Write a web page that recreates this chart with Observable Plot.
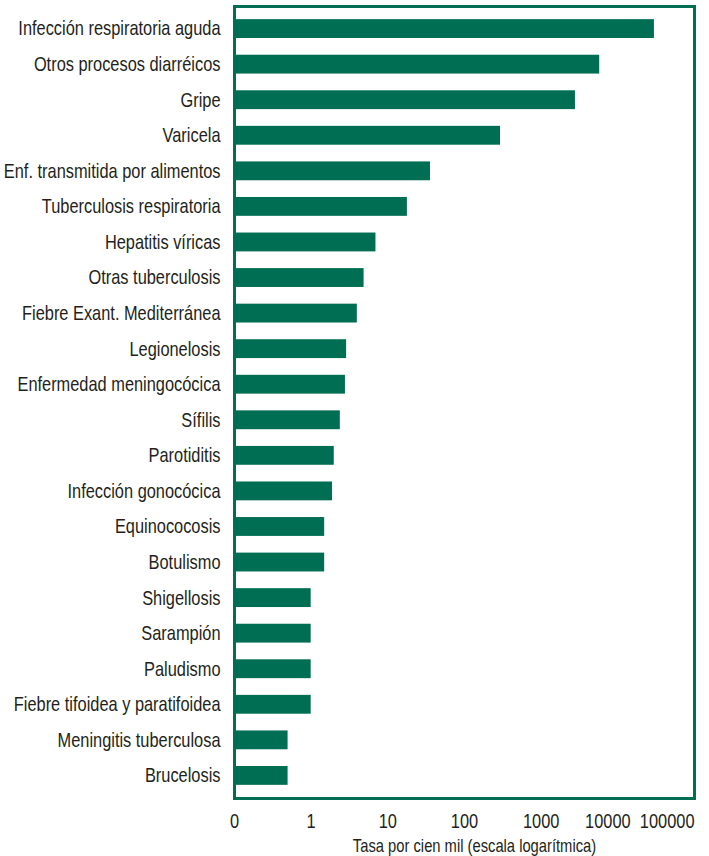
<!DOCTYPE html>
<html>
<head>
<meta charset="utf-8">
<script src="https://cdn.jsdelivr.net/npm/d3@7"></script>
<script src="https://cdn.jsdelivr.net/npm/@observablehq/plot@0.6"></script>
<style>
  html, body { margin: 0; padding: 0; background: #fff; }
  #chart svg { display: block; }
</style>
</head>
<body>
<div id="chart"></div>
<script>
// Categories (top to bottom)
const diseases = [
  "Infección respiratoria aguda",
  "Otros procesos diarréicos",
  "Gripe",
  "Varicela",
  "Enf. transmitida por alimentos",
  "Tuberculosis respiratoria",
  "Hepatitis víricas",
  "Otras tuberculosis",
  "Fiebre Exant. Mediterránea",
  "Legionelosis",
  "Enfermedad meningocócica",
  "Sífilis",
  "Parotiditis",
  "Infección gonocócica",
  "Equinococosis",
  "Botulismo",
  "Shigellosis",
  "Sarampión",
  "Paludismo",
  "Fiebre tifoidea y paratifoidea",
  "Meningitis tuberculosa",
  "Brucelosis"
];
// Rate per 100,000 (estimated from log-scale bars)
const rates = [30000, 5800, 2800, 295, 36, 18, 7, 4.9, 4, 2.9, 2.8, 2.4, 2, 1.9, 1.5, 1.5, 1, 1, 1, 1, 0.5, 0.5];

// Axis ticks and labels
const tickValues = [0.1, 1, 10, 100, 1000, 10000, 100000];
const tickLabels = ["0", "1", "10", "100", "1000", "10000", "100000"];
const xTitle = "Tasa por cien mil (escala logarítmica)";

const data = diseases.map((name, i) => ({name, rate: rates[i]}));
const labelOf = v => tickLabels[tickValues.indexOf(v)];
const green = "#006e52";
const textColor = "#231f20";
const font = "'Liberation Sans', Arial, sans-serif";

const chart = Plot.plot({
  width: 709,
  height: 856,
  marginLeft: 234,
  marginRight: 15,
  marginTop: 6,
  marginBottom: 58,
  style: {fontFamily: font, fontSize: "20px", color: textColor, background: "#fff"},
  x: {type: "log", domain: [tickValues[0], tickValues[tickValues.length - 1]]},
  y: {domain: diseases, paddingInner: 0.47, paddingOuter: 0.37, round: false},
  marks: [
    Plot.barX(data, {y: "name", x1: () => tickValues[0], x2: "rate", fill: green}),
    Plot.frame({stroke: green, strokeWidth: 3}),
    Plot.axisY({tickSize: 0, tickPadding: 14, label: null, fill: textColor, fontSize: 20}),
    Plot.axisX({ticks: tickValues.slice(0, 5), tickFormat: labelOf, tickSize: 0, tickPadding: 15, label: null, fill: textColor, fontSize: 20}),
    Plot.axisX({ticks: tickValues.slice(5, 6), tickFormat: labelOf, tickSize: 0, tickPadding: 15, dx: -10, label: null, fill: textColor, fontSize: 20}),
    Plot.axisX({ticks: tickValues.slice(6), tickFormat: labelOf, tickSize: 0, tickPadding: 15, textAnchor: "end", label: null, fill: textColor, fontSize: 20}),
    Plot.text([xTitle], {frameAnchor: "bottom", dy: 53, dx: 10, text: d => d, fill: textColor, fontSize: 18, lineAnchor: "bottom"})
  ]
});

// Condense text horizontally (narrow sans look), scaling about each text's anchor point
chart.querySelectorAll("text").forEach(t => {
  const tr = t.getAttribute("transform");
  if (tr) t.setAttribute("transform", tr + " scale(0.82,1)");
});
document.getElementById("chart").appendChild(chart);
</script>
</body>
</html>
